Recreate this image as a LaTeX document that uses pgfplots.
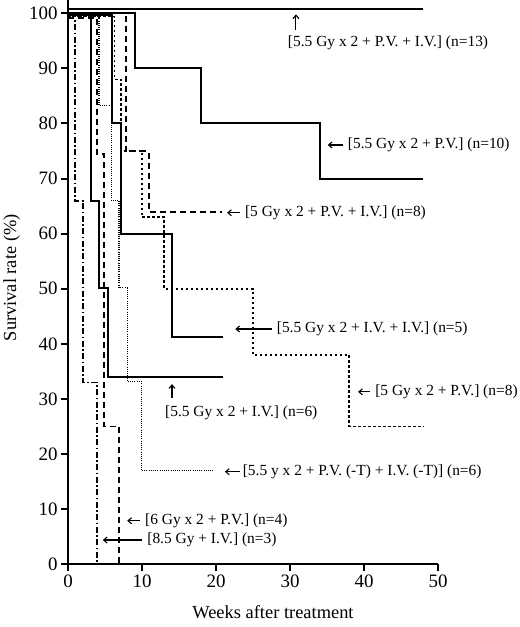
\documentclass[border=0pt]{standalone}
\usepackage{pgfplots}
\pgfplotsset{compat=1.18}
\usepackage{fontspec}
\setmainfont{Liberation Serif}
\usetikzlibrary{arrows.meta}
\begin{document}
\begin{tikzpicture}
\begin{axis}[
  scale only axis, width=370bp, height=564.3bp,
  xmin=0, xmax=50, ymin=0, ymax=102.41,
  axis lines*=left,
  axis line style={line width=2bp},
  xtick={0,10,...,50}, ytick={0,10,...,100},
  tick align=outside, major tick length=7bp,
  tick style={line width=2bp, black},
  ticklabel style={font=\fontsize{19}{21}\selectfont},
  /pgf/number format/assume math mode=true,
  clip=false,
  every axis plot/.append style={black, const plot, mark=none},
]
% [5.5 Gy x 2 + P.V. + I.V.] (n=13)
\addplot[line width=2bp] coordinates {(0,100.7) (48,100.7)};
% [5.5 Gy x 2 + P.V.] (n=10)
\addplot[line width=2bp] coordinates {(0,100) (9.1,90) (18,80) (34,70) (48,70)};
% [5 Gy x 2 + P.V. + I.V.] (n=8)
\addplot[line width=1.8bp, dash pattern=on 6bp off 4bp] coordinates {(0,100) (7.8,75) (10.9,64) (20.8,64)};
% [5.5 Gy x 2 + I.V. + I.V.] (n=5)
\addplot[line width=2bp] coordinates {(0,99.6) (5.9,80) (7.2,60) (14,41.2) (21,41.2)};
% [5 Gy x 2 + P.V.] (n=8)
\addplot[line width=1.6bp, dash pattern=on 2.5bp off 2.5bp] coordinates {(0,99.4) (6.3,88) (7.2,75) (10,63) (13,50) (25,38) (38,25) (48,25)};
% [5.5 Gy x 2 + I.V.] (n=6)
\addplot[line width=2bp] coordinates {(0,100) (3.05,66) (4.2,50.2) (5.45,34) (21,34)};
% [5.5 y x 2 + P.V. (-T) + I.V. (-T)] (n=6)
\addplot[line width=1.3bp, dash pattern=on 1bp off 1.2bp] coordinates {(0,99.4) (4.2,83.2) (5.9,66) (6.9,50.2) (8,33.2) (9.9,17) (19.6,17)};
% [6 Gy x 2 + P.V.] (n=4)
\addplot[line width=1.8bp, dash pattern=on 6bp off 4bp] coordinates {(0,99.1) (3.9,74.5) (4.9,25) (6.9,0)};
% [8.5 Gy + I.V.] (n=3)
\addplot[line width=1.8bp, dash pattern=on 6bp off 2.5bp on 1.5bp off 2.5bp] coordinates {(0,99.1) (0.9,66) (2,33) (3.9,0)};

\tikzset{ann/.style={font=\fontsize{15.5}{17}\selectfont, anchor=west, inner sep=0pt},
         arr/.style={line width=1.1bp, -{Straight Barb[length=3.5bp,width=6bp]}}}
\draw[arr] (axis cs:30.8,97.0) -- (axis cs:30.8,99.8);
\node[ann] at (axis cs:29.7,94.6) {[5.5 Gy x 2 + P.V. + I.V.] (n=13)};
\draw[arr] (axis cs:37.2,76.1) -- (axis cs:35.1,76.1);
\node[ann] at (axis cs:37.8,76.1) {[5.5 Gy x 2 + P.V.] (n=10)};
\draw[arr] (axis cs:23.2,63.8) -- (axis cs:21.5,63.8);
\node[ann] at (axis cs:23.9,63.8) {[5 Gy x 2 + P.V. + I.V.] (n=8)};
\draw[arr] (axis cs:27.6,42.7) -- (axis cs:22.6,42.7);
\node[ann] at (axis cs:28.2,42.7) {[5.5 Gy x 2 + I.V. + I.V.] (n=5)};
\draw[arr] (axis cs:40.8,31.3) -- (axis cs:39.2,31.3);
\node[ann] at (axis cs:41.5,31.3) {[5 Gy x 2 + P.V.] (n=8)};
\draw[arr] (axis cs:14.05,30.2) -- (axis cs:14.05,32.7);
\node[ann] at (axis cs:13.1,27.5) {[5.5 Gy x 2 + I.V.] (n=6)};
\draw[arr] (axis cs:23.2,16.8) -- (axis cs:21.2,16.8);
\node[ann] at (axis cs:23.6,16.8) {[5.5 y x 2 + P.V. (-T) + I.V. (-T)] (n=6)};
\draw[arr] (axis cs:9.7,7.9) -- (axis cs:8.0,7.9);
\node[ann] at (axis cs:10.4,7.9) {[6 Gy x 2 + P.V.] (n=4)};
\draw[arr] (axis cs:10.0,4.4) -- (axis cs:4.7,4.4);
\node[ann] at (axis cs:10.7,4.4) {[8.5 Gy + I.V.] (n=3)};

\node[font=\fontsize{18.5}{20}\selectfont] at (axis cs:27.7,-8.7) {Weeks after treatment};
\node[font=\fontsize{18.5}{20}\selectfont, rotate=90] at (axis cs:-7.6,52) {Survival rate (\%)};

\coordinate (bl) at (axis cs:-9.19,-11.38);
\coordinate (tr) at (axis cs:61.08,102.41);
\end{axis}
\pgfresetboundingbox
\path[use as bounding box] (bl) rectangle (tr);
\end{tikzpicture}
\end{document}
